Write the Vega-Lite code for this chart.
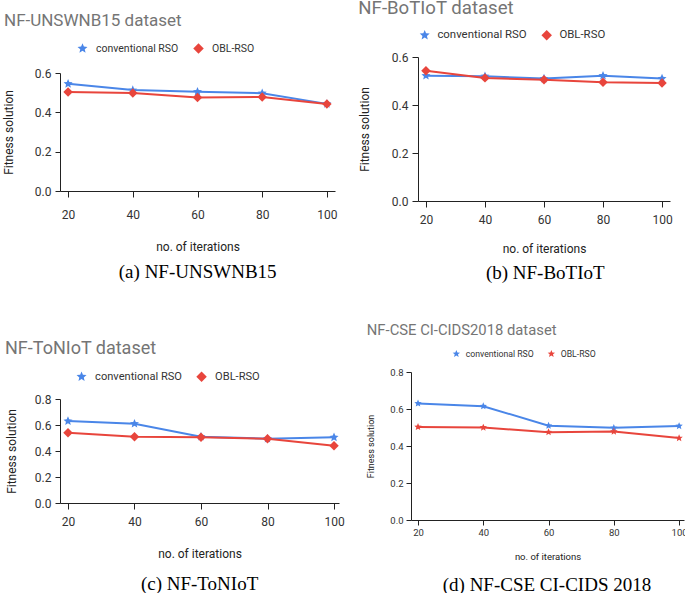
{
  "$schema": "https://vega.github.io/schema/vega-lite/v6.json",
  "padding": {"left": 2, "top": -1, "right": 0, "bottom": 0},
  "background": "white",
  "datasets": {
    "a": [
      {"iter": 20, "series": "conventional RSO", "value": 0.545},
      {"iter": 40, "series": "conventional RSO", "value": 0.513},
      {"iter": 60, "series": "conventional RSO", "value": 0.505},
      {"iter": 80, "series": "conventional RSO", "value": 0.497},
      {"iter": 100, "series": "conventional RSO", "value": 0.443},
      {"iter": 20, "series": "OBL-RSO", "value": 0.503},
      {"iter": 40, "series": "OBL-RSO", "value": 0.498},
      {"iter": 60, "series": "OBL-RSO", "value": 0.475},
      {"iter": 80, "series": "OBL-RSO", "value": 0.478},
      {"iter": 100, "series": "OBL-RSO", "value": 0.442}
    ],
    "b": [
      {"iter": 20, "series": "conventional RSO", "value": 0.522},
      {"iter": 40, "series": "conventional RSO", "value": 0.520},
      {"iter": 60, "series": "conventional RSO", "value": 0.510},
      {"iter": 80, "series": "conventional RSO", "value": 0.522},
      {"iter": 100, "series": "conventional RSO", "value": 0.510},
      {"iter": 20, "series": "OBL-RSO", "value": 0.543},
      {"iter": 40, "series": "OBL-RSO", "value": 0.513},
      {"iter": 60, "series": "OBL-RSO", "value": 0.505},
      {"iter": 80, "series": "OBL-RSO", "value": 0.495},
      {"iter": 100, "series": "OBL-RSO", "value": 0.492}
    ],
    "c": [
      {"iter": 20, "series": "conventional RSO", "value": 0.63},
      {"iter": 40, "series": "conventional RSO", "value": 0.61},
      {"iter": 60, "series": "conventional RSO", "value": 0.51},
      {"iter": 80, "series": "conventional RSO", "value": 0.495},
      {"iter": 100, "series": "conventional RSO", "value": 0.505},
      {"iter": 20, "series": "OBL-RSO", "value": 0.54},
      {"iter": 40, "series": "OBL-RSO", "value": 0.51},
      {"iter": 60, "series": "OBL-RSO", "value": 0.505},
      {"iter": 80, "series": "OBL-RSO", "value": 0.495},
      {"iter": 100, "series": "OBL-RSO", "value": 0.44}
    ],
    "d": [
      {"iter": 20, "series": "conventional RSO", "value": 0.63},
      {"iter": 40, "series": "conventional RSO", "value": 0.615},
      {"iter": 60, "series": "conventional RSO", "value": 0.51},
      {"iter": 80, "series": "conventional RSO", "value": 0.498},
      {"iter": 100, "series": "conventional RSO", "value": 0.508},
      {"iter": 20, "series": "OBL-RSO", "value": 0.503},
      {"iter": 40, "series": "OBL-RSO", "value": 0.5},
      {"iter": 60, "series": "OBL-RSO", "value": 0.475},
      {"iter": 80, "series": "OBL-RSO", "value": 0.478},
      {"iter": 100, "series": "OBL-RSO", "value": 0.443}
    ]
  },
  "resolve": {"scale": {"x": "independent", "y": "independent", "color": "independent", "shape": "independent"}, "legend": {"color": "independent", "shape": "independent"}},
  "spacing": 40,
  "vconcat": [
    {
      "spacing": 20,
      "resolve": {"scale": {"x": "independent", "y": "independent", "color": "independent", "shape": "independent"}, "legend": {"color": "independent", "shape": "independent"}},
      "hconcat": [
        {
          "title": {"text": "(a) NF-UNSWNB15", "orient": "bottom", "anchor": "middle", "font": "Liberation Serif", "fontSize": 19, "fontWeight": "normal", "color": "#000000", "offset": 11, "dx": 28},
          "spacing": 9,
          "vconcat": [
            {
              "width": 275,
              "height": 1,
              "data": {"values": []},
              "mark": "point",
              "title": {"text": "NF-UNSWNB15 dataset", "anchor": "start", "frame": "group", "dx": -56, "font": "Roboto", "fontSize": 17, "fontWeight": "normal", "color": "#757575", "offset": 27}
            },
            {
              "data": {"name": "a"},
              "width": 275,
              "height": 118,
              "mark": {"type": "line", "strokeWidth": 2, "point": {"filled": true, "size": 90, "opacity": 1}},
              "encoding": {
                "x": {"field": "iter", "type": "quantitative", "scale": {"domain": [17.5, 102.5], "nice": false, "zero": false},
                      "axis": {"values": [20, 40, 60, 80, 100], "title": "no. of iterations", "tickSize": 6, "labelPadding": 12, "titlePadding": 21, "labelFontSize": 12, "titleFontSize": 12}},
                "y": {"field": "value", "type": "quantitative", "scale": {"domain": [0, 0.6], "nice": false},
                      "axis": {"values": [0, 0.2, 0.4, 0.6], "format": ".1f", "title": "Fitness solution", "tickSize": 5, "labelPadding": 4, "titlePadding": 19, "labelFontSize": 12, "titleFontSize": 12}},
                "color": {"field": "series", "type": "nominal", "scale": {"domain": ["conventional RSO", "OBL-RSO"], "range": ["#4a86e8", "#e8453c"]},
                          "legend": {"orient": "none", "legendX": 17, "legendY": -14, "direction": "horizontal", "title": null, "labelFontSize": 10.5, "columnPadding": 14, "symbolSize": 110, "labelOffset": 8}},
                "shape": {"field": "series", "type": "nominal", "scale": {"domain": ["conventional RSO", "OBL-RSO"], "range": ["M0,-1L0.2645,-0.364L0.951,-0.309L0.428,0.139L0.588,0.809L0,0.45L-0.588,0.809L-0.428,0.139L-0.951,-0.309L-0.2645,-0.364Z", "diamond"]},
                          "legend": {"orient": "none", "legendX": 17, "legendY": -14, "direction": "horizontal", "title": null, "labelFontSize": 10.5, "columnPadding": 14, "symbolSize": 110, "labelOffset": 8}}
              }
            }
          ]
        },
        {
          "title": {"text": "(b) NF-BoTIoT", "orient": "bottom", "anchor": "middle", "font": "Liberation Serif", "fontSize": 19, "fontWeight": "normal", "color": "#000000", "offset": 10, "dx": 30},
          "vconcat": [
            {
              "data": {"name": "b"},
              "width": 252,
              "height": 144,
              "title": {"text": "NF-BoTIoT dataset", "anchor": "start", "frame": "bounds", "font": "Roboto", "fontSize": 18.6, "fontWeight": "normal", "color": "#757575", "offset": 33},
              "mark": {"type": "line", "strokeWidth": 2, "point": {"filled": true, "size": 90, "opacity": 1}},
              "encoding": {
                "x": {"field": "iter", "type": "quantitative", "scale": {"domain": [17.3, 102.7], "nice": false, "zero": false},
                      "axis": {"values": [20, 40, 60, 80, 100], "title": "no. of iterations", "tickSize": 6, "labelPadding": 7, "titlePadding": 18, "labelFontSize": 12, "titleFontSize": 12}},
                "y": {"field": "value", "type": "quantitative", "scale": {"domain": [0, 0.6], "nice": false},
                      "axis": {"values": [0, 0.2, 0.4, 0.6], "format": ".1f", "title": "Fitness solution", "tickSize": 6, "labelPadding": 4, "titlePadding": 20, "labelFontSize": 12, "titleFontSize": 12}},
                "color": {"field": "series", "type": "nominal", "scale": {"domain": ["conventional RSO", "OBL-RSO"], "range": ["#4a86e8", "#e8453c"]},
                          "legend": {"orient": "none", "legendX": 1, "legendY": -28, "direction": "horizontal", "title": null, "labelFontSize": 11.4, "columnPadding": 14, "symbolSize": 110, "labelOffset": 7}},
                "shape": {"field": "series", "type": "nominal", "scale": {"domain": ["conventional RSO", "OBL-RSO"], "range": ["M0,-1L0.2645,-0.364L0.951,-0.309L0.428,0.139L0.588,0.809L0,0.45L-0.588,0.809L-0.428,0.139L-0.951,-0.309L-0.2645,-0.364Z", "diamond"]},
                          "legend": {"orient": "none", "legendX": 1, "legendY": -28, "direction": "horizontal", "title": null, "labelFontSize": 11.4, "columnPadding": 14, "symbolSize": 110, "labelOffset": 7}}
              }
            }
          ]
        }
      ]
    },
    {
      "spacing": 21,
      "resolve": {"scale": {"x": "independent", "y": "independent", "color": "independent", "shape": "independent"}, "legend": {"color": "independent", "shape": "independent"}},
      "hconcat": [
        {
          "title": {"text": "(c) NF-ToNIoT", "orient": "bottom", "anchor": "middle", "font": "Liberation Serif", "fontSize": 19, "fontWeight": "normal", "color": "#000000", "offset": 16, "dx": 25},
          "spacing": 20,
          "vconcat": [
            {
              "width": 279,
              "height": 1,
              "data": {"values": []},
              "mark": "point",
              "title": {"text": "NF-ToNIoT dataset", "anchor": "start", "frame": "group", "dx": -55, "font": "Roboto", "fontSize": 18, "fontWeight": "normal", "color": "#757575", "offset": 14}
            },
            {
              "data": {"name": "c"},
              "width": 279,
              "height": 104,
              "mark": {"type": "line", "strokeWidth": 2, "point": {"filled": true, "size": 90, "opacity": 1}},
              "encoding": {
                "x": {"field": "iter", "type": "quantitative", "scale": {"domain": [17.6, 101.5], "nice": false, "zero": false},
                      "axis": {"values": [20, 40, 60, 80, 100], "title": "no. of iterations", "tickSize": 6, "labelPadding": 7, "titlePadding": 21, "labelFontSize": 12, "titleFontSize": 12}},
                "y": {"field": "value", "type": "quantitative", "scale": {"domain": [0, 0.8], "nice": false},
                      "axis": {"values": [0, 0.2, 0.4, 0.6, 0.8], "format": ".1f", "title": "Fitness solution", "tickSize": 5, "labelPadding": 4, "titlePadding": 16, "labelFontSize": 12, "titleFontSize": 12}},
                "color": {"field": "series", "type": "nominal", "scale": {"domain": ["conventional RSO", "OBL-RSO"], "range": ["#4a86e8", "#e8453c"]},
                          "legend": {"orient": "none", "legendX": 16, "legendY": -1, "direction": "horizontal", "title": null, "labelFontSize": 11.1, "columnPadding": 14, "symbolSize": 110, "labelOffset": 8}},
                "shape": {"field": "series", "type": "nominal", "scale": {"domain": ["conventional RSO", "OBL-RSO"], "range": ["M0,-1L0.2645,-0.364L0.951,-0.309L0.428,0.139L0.588,0.809L0,0.45L-0.588,0.809L-0.428,0.139L-0.951,-0.309L-0.2645,-0.364Z", "diamond"]},
                          "legend": {"orient": "none", "legendX": 16, "legendY": -1, "direction": "horizontal", "title": null, "labelFontSize": 11.1, "columnPadding": 14, "symbolSize": 110, "labelOffset": 8}}
              }
            }
          ]
        },
        {
          "title": {"text": "(d) NF-CSE CI-CIDS 2018", "orient": "bottom", "anchor": "middle", "font": "Liberation Serif", "fontSize": 19, "fontWeight": "normal", "color": "#000000", "offset": 15, "dx": 20},
          "vconcat": [
            {
              "data": {"name": "d"},
              "width": 273,
              "height": 148,
              "title": {"text": "NF-CSE CI-CIDS2018 dataset", "anchor": "start", "frame": "bounds", "font": "Roboto", "fontSize": 14.8, "fontWeight": "normal", "color": "#757575", "offset": 29},
              "mark": {"type": "line", "strokeWidth": 2, "point": {"filled": true, "size": 60, "opacity": 1}},
              "encoding": {
                "x": {"field": "iter", "type": "quantitative", "scale": {"domain": [17.85, 101.5], "nice": false, "zero": false},
                      "axis": {"values": [20, 40, 60, 80, 100], "title": "no. of iterations", "tickSize": 5, "labelPadding": 2, "titlePadding": 15, "labelFontSize": 9.5, "titleFontSize": 9.5}},
                "y": {"field": "value", "type": "quantitative", "scale": {"domain": [0, 0.8], "nice": false},
                      "axis": {"values": [0, 0.2, 0.4, 0.6, 0.8], "format": ".1f", "title": "Fitness solution", "tickSize": 5, "labelPadding": 3, "titlePadding": 14, "labelFontSize": 9.5, "titleFontSize": 9}},
                "color": {"field": "series", "type": "nominal", "scale": {"domain": ["conventional RSO", "OBL-RSO"], "range": ["#4a86e8", "#e8453c"]},
                          "legend": {"orient": "none", "legendX": 41, "legendY": -23, "direction": "horizontal", "title": null, "labelFontSize": 8.7, "columnPadding": 13, "symbolSize": 60, "labelOffset": 5}},
                "shape": {"field": "series", "type": "nominal", "scale": {"domain": ["conventional RSO", "OBL-RSO"], "range": ["M0,-1L0.2645,-0.364L0.951,-0.309L0.428,0.139L0.588,0.809L0,0.45L-0.588,0.809L-0.428,0.139L-0.951,-0.309L-0.2645,-0.364Z", "M0,-1L0.2645,-0.364L0.951,-0.309L0.428,0.139L0.588,0.809L0,0.45L-0.588,0.809L-0.428,0.139L-0.951,-0.309L-0.2645,-0.364Z"]},
                          "legend": {"orient": "none", "legendX": 41, "legendY": -23, "direction": "horizontal", "title": null, "labelFontSize": 8.7, "columnPadding": 13, "symbolSize": 60, "labelOffset": 5}}
              }
            }
          ]
        }
      ]
    }
  ],
  "config": {
    "view": {"stroke": null},
    "axis": {"grid": false, "domainColor": "#222222", "tickColor": "#222222", "labelFont": "Roboto", "labelColor": "#333333", "titleFont": "Roboto", "titleColor": "#222222", "titleFontWeight": "normal", "labelFlush": false, "labelOverlap": false},
    "legend": {"labelFont": "Roboto", "labelColor": "#333333", "symbolStrokeWidth": 0}
  }
}
